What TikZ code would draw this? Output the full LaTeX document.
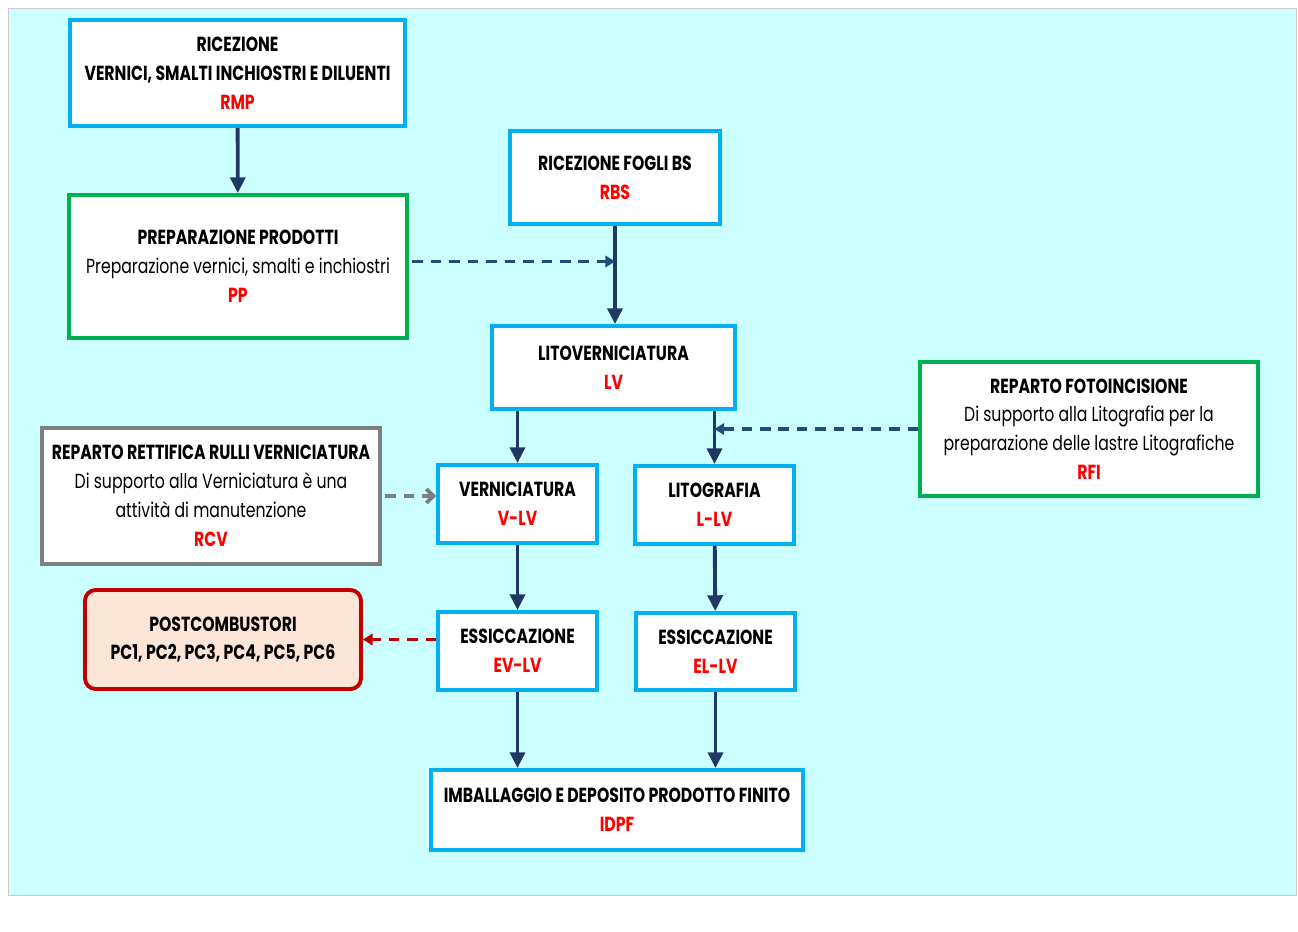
\documentclass[tikz,border=0pt]{standalone}
\usepackage{fontspec}
\setmainfont{Poppins}[FakeStretch=0.77]
\usepackage{tikz}
\usetikzlibrary{arrows.meta}
\definecolor{fondo}{HTML}{CCFFFF}
\definecolor{bordoblu}{HTML}{00B0F0}
\definecolor{bordoverde}{HTML}{00B050}
\definecolor{bordogrigio}{HTML}{7F7F7F}
\definecolor{bordorosso}{HTML}{C00000}
\definecolor{rosa}{HTML}{FBE5D6}
\definecolor{sigla}{HTML}{FF0000}
\definecolor{freccia}{HTML}{1F3864}
\definecolor{tratteggio}{HTML}{1F4E79}
\newcommand{\sigla}[1]{\\{\bfseries\color{sigla}#1}}

\tikzset{
  blocco/.style={draw, line width=2.2pt, fill=white, align=center, inner sep=2pt,
    font=\fontsize{11.6}{16.4}\selectfont},
  blu/.style={blocco, draw=bordoblu},
  verde/.style={blocco, draw=bordoverde},
  grigio/.style={blocco, draw=bordogrigio},
  rosso/.style={blocco, draw=bordorosso, fill=rosa, rounded corners=6pt},
  flusso/.style={freccia, line width=2.2pt, -{Triangle[length=9pt,width=8.5pt]}},
  supporto/.style={tratteggio, line width=2.2pt, dash pattern=on 6pt off 4.5pt,
    -{Triangle[length=5.5pt,width=6.5pt]}},
}

\begin{document}
\begin{tikzpicture}[x=0.02cm, y=-0.02cm]
    \useasboundingbox (0,0) rectangle (1298,931);
    \fill[white] (0,0) rectangle (1298,931);
    \filldraw[fill=fondo, draw=gray!40, line width=0.4pt] (8,8) rectangle (1296,895);

    % colonna di sinistra
    \node[blu, minimum width=6.7cm, minimum height=2.12cm] (rmp) at (237.5,73)
      {\bfseries RICEZIONE\\\bfseries VERNICI, SMALTI INCHIOSTRI E DILUENTI\sigla{RMP}};
    \node[verde, minimum width=6.76cm, minimum height=2.86cm] (pp) at (238,266.5)
      {\bfseries PREPARAZIONE PRODOTTI\\Preparazione vernici, smalti e inchiostri\sigla{PP}};
    \node[grigio, minimum width=6.76cm, minimum height=2.72cm] (rcv) at (211,496)
      {\bfseries REPARTO RETTIFICA RULLI VERNICIATURA\\Di supporto alla Verniciatura è una\\attività di manutenzione\sigla{RCV}};
    \node[rosso, minimum width=5.52cm, minimum height=1.98cm] (pc) at (223,639.5)
      {\bfseries POSTCOMBUSTORI\\\bfseries PC1, PC2, PC3, PC4, PC5, PC6};

    % linea centrale
    \node[blu, minimum width=4.2cm, minimum height=1.86cm] (rbs) at (615,177.5)
      {\bfseries RICEZIONE FOGLI BS\sigla{RBS}};
    \node[blu, minimum width=4.86cm, minimum height=1.66cm] (lv) at (613.5,367.5)
      {\bfseries LITOVERNICIATURA\sigla{LV}};
    \node[blu, minimum width=3.18cm, minimum height=1.56cm] (vlv) at (517.5,504)
      {\bfseries VERNICIATURA\sigla{V-LV}};
    \node[blu, minimum width=3.18cm, minimum height=1.56cm] (llv) at (714.5,505)
      {\bfseries LITOGRAFIA\sigla{L-LV}};
    \node[blu, minimum width=3.18cm, minimum height=1.56cm] (evlv) at (517.5,651)
      {\bfseries ESSICCAZIONE\sigla{EV-LV}};
    \node[blu, minimum width=3.18cm, minimum height=1.54cm] (ellv) at (715.5,651.5)
      {\bfseries ESSICCAZIONE\sigla{EL-LV}};
    \node[blu, minimum width=7.44cm, minimum height=1.6cm] (idpf) at (617,810)
      {\bfseries IMBALLAGGIO E DEPOSITO PRODOTTO FINITO\sigla{IDPF}};

    % colonna di destra
    \node[verde, minimum width=6.76cm, minimum height=2.68cm] (rfi) at (1089,429)
      {\bfseries REPARTO FOTOINCISIONE\\Di supporto alla Litografia per la\\preparazione delle lastre Litografiche\sigla{RFI}};

    % frecce
    \draw[flusso] (rmp) -- (pp);
    \draw[flusso] (rbs.south) -- (rbs.south |- lv.north);
    \draw[flusso] (vlv.north |- lv.south) -- (vlv.north);
    \draw[flusso] (llv.north |- lv.south) -- (llv.north);
    \draw[flusso] (vlv) -- (evlv);
    \draw[flusso] (llv) -- (ellv);
    \draw[flusso] (evlv.south) -- (evlv.south |- idpf.north);
    \draw[flusso] (ellv.south) -- (ellv.south |- idpf.north);

    \draw[supporto, shorten <=2pt] ([yshift=0.1cm]pp.east) -- ([yshift=0.1cm]pp.east -| rbs.south);
    \draw[supporto] (rfi.west) -- (rfi.west -| llv.north);
    \draw[supporto, bordogrigio, -{Straight Barb[length=4pt,width=8pt]}, shorten <=2pt]
      (rcv.east) -- (rcv.east -| vlv.west);
    \draw[supporto, bordorosso] (evlv.west |- pc.east) -- (pc.east);
\end{tikzpicture}
\end{document}
